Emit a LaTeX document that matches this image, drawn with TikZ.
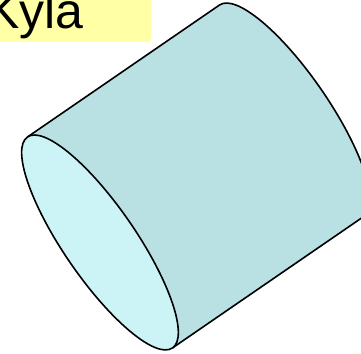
\documentclass[tikz,border=0pt]{standalone}
\usepackage{fontspec}
\setmainfont{Liberation Sans}
\usetikzlibrary{positioning}
\definecolor{sideteal}{RGB}{185,224,227}
\definecolor{faceteal}{RGB}{204,244,246}
\definecolor{tagyellow}{RGB}{255,255,166}

\begin{document}
\begin{tikzpicture}[x=1pt,y=1pt,line join=round]
  \useasboundingbox (0,0) rectangle (361,353);
  \clip (0,0) rectangle (361,353);

  % label box at top left
  \node[fill=tagyellow,inner sep=0pt,anchor=base west,text width=165pt,
        text depth=13pt,font=\fontsize{50}{60}\selectfont]
    (tag) at (-14,324) {Kyla};

  % tilted cylinder (local frame: x along the face, y along the axis)
  \begin{scope}[shift={(292,242.5)},rotate=-55.5]
    % side surface
    \draw[fill=sideteal,line width=1.6pt]
      (-128,-233) -- (-128,0)
      arc[start angle=180,end angle=0,x radius=128,y radius=36]
      -- (128,-233);
    % front face
    \draw[fill=faceteal,line width=1.6pt]
      (0,-233) ellipse[x radius=128,y radius=36];
  \end{scope}
\end{tikzpicture}
\end{document}
